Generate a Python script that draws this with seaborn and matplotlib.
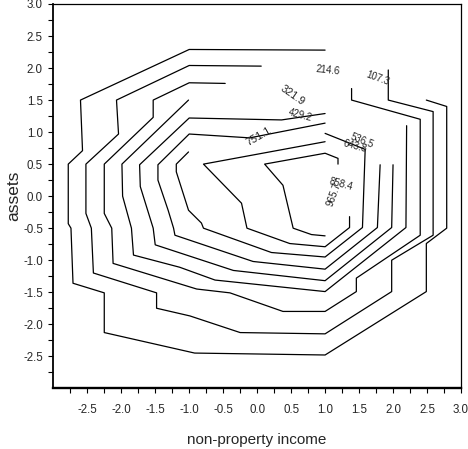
import matplotlib
matplotlib.use("Agg")
import matplotlib.pyplot as plt
from matplotlib.ticker import FixedLocator
import numpy as np
import pandas as pd
import seaborn as sns

# contour levels of the density surface
levels = [107.3, 214.6, 321.9, 429.2, 536.5, 643.8, 751.1, 858.4, 965.7]

# traced contour paths (non-property income, assets), one pair per level
c1_x = [1.00, -1.00, -2.60, -2.57, -2.78, -2.78, -2.74, -2.71, -2.25, -2.25, -0.92, 1.00, 2.49, 2.49, 2.79, 2.79, 2.49]
c1_y = [2.28, 2.29, 1.50, 0.71, 0.50, -0.43, -0.50, -1.36, -1.51, -2.13, -2.45, -2.48, -1.49, -0.74, -0.50, 1.40, 1.50]

c2_x = [0.06, -1.00, -2.07, -2.04, -2.52, -2.52, -2.44, -2.41, -1.48, -1.48, -0.99, -0.25, 1.00, 1.98, 1.98, 2.59, 2.59, 1.93, 1.93]
c2_y = [2.03, 2.04, 1.50, 0.97, 0.50, -0.27, -0.50, -1.20, -1.51, -1.75, -1.87, -2.13, -2.15, -1.49, -1.00, -0.61, 1.32, 1.50, 1.97]

c3_x = [-0.47, -1.00, -1.53, -1.53, -2.25, -2.25, -2.14, -2.12, -0.89, -0.40, 0.38, 1.00, 1.46, 1.46, 2.40, 2.40, 1.39, 1.39]
c3_y = [1.76, 1.77, 1.50, 1.23, 0.50, -0.27, -0.50, -1.05, -1.45, -1.51, -1.80, -1.80, -1.49, -1.28, -0.61, 1.20, 1.50, 1.68]

c4_x = [-1.01, -1.99, -1.98, -1.85, -1.82, -1.14, -0.62, 1.00, 2.19, 2.20]
c4_y = [1.50, 0.50, 0.00, -0.50, -0.92, -1.11, -1.31, -1.49, -0.49, 1.10]

c5_x = [1.00, 0.36, -1.00, -1.73, -1.72, -1.53, -1.50, -0.35, 1.00, 1.98, 2.00]
c5_y = [1.29, 1.19, 1.22, 0.49, 0.15, -0.50, -0.76, -1.16, -1.32, -0.49, 0.49]

c6_x = [1.00, -0.11, -1.00, -1.46, -1.46, -1.31, -1.23, -1.21, -0.06, 1.00, 1.77, 1.81]
c6_y = [1.14, 0.91, 0.97, 0.49, 0.25, -0.22, -0.50, -0.61, -1.02, -1.14, -0.49, 0.49]

c7_x = [-1.01, -1.19, -1.19, -1.01, -0.82, -0.79, 0.21, 1.00, 1.55, 1.59, 1.00]
c7_y = [0.69, 0.50, 0.38, -0.22, -0.42, -0.50, -0.88, -0.95, -0.49, 0.73, 0.98]

c8_x = [1.00, -0.79, -0.23, -0.15, 0.48, 1.00, 1.36, 1.36]
c8_y = [0.85, 0.50, -0.11, -0.50, -0.74, -0.79, -0.49, -0.32]

c9_x = [1.19, 1.19, 1.00, 0.11, 0.38, 0.53, 0.80, 1.00]
c9_y = [0.50, 0.59, 0.67, 0.50, 0.17, -0.50, -0.60, -0.62]

x_ticks = [-2.5, -2.0, -1.5, -1.0, -0.5, 0.0, 0.5, 1.0, 1.5, 2.0, 2.5, 3.0]
y_ticks = [-2.5, -2.0, -1.5, -1.0, -0.5, 0.0, 0.5, 1.0, 1.5, 2.0, 2.5, 3.0]

paths_x = [c1_x, c2_x, c3_x, c4_x, c5_x, c6_x, c7_x, c8_x, c9_x]
paths_y = [c1_y, c2_y, c3_y, c4_y, c5_y, c6_y, c7_y, c8_y, c9_y]

frames = []
for lev, px, py in zip(levels, paths_x, paths_y):
    frames.append(pd.DataFrame({"income": px, "assets": py, "level": lev,
                                "order": np.arange(len(px))}))
df = pd.concat(frames, ignore_index=True)

sns.set_style("ticks")
plt.rcParams["font.family"] = ["Liberation Sans", "DejaVu Sans"]

fig = plt.figure(figsize=(4.68, 4.49), dpi=100)
ax = fig.add_axes([0.1139, 0.1352, 0.8711, 0.8559])

sns.lineplot(data=df, x="income", y="assets", units="level", estimator=None,
             sort=False, color="black", linewidth=0.9, legend=False, ax=ax)

# inline level labels, placed in the gaps of each contour
label_place = {
    107.3: (1.78, 1.84, -20, 7.0),
    214.6: (1.04, 1.97, -6, 7.0),
    321.9: (0.52, 1.58, -35, 7.8),
    429.2: (0.64, 1.27, -15, 7.0),
    536.5: (1.54, 0.86, -22, 7.0),
    643.8: (1.44, 0.78, -15, 7.0),
    751.1: (0.03, 0.93, 30, 7.8),
    858.4: (1.24, 0.19, -15, 7.0),
    965.7: (1.13, 0.03, 70, 7.0),
}
for lev in levels:
    lx, ly, rot, fs = label_place[lev]
    ax.text(lx, ly, f"{lev:.1f}", fontsize=fs, rotation=rot,
            ha="center", va="center", color="#222222")

ax.set_xlim(-3.0, 3.0)
ax.set_ylim(-3.0, 3.0)
ax.xaxis.set_major_locator(FixedLocator(x_ticks))
ax.yaxis.set_major_locator(FixedLocator(y_ticks))
minor = [v for v in np.arange(-2.75, 2.8, 0.25) if abs(v * 2 - round(v * 2)) > 1e-6]
ax.xaxis.set_minor_locator(FixedLocator(minor))
ax.yaxis.set_minor_locator(FixedLocator(minor))
ax.set_xticklabels([f"{v:.1f}" for v in x_ticks])
ax.set_yticklabels([f"{v:.1f}" for v in y_ticks])
ax.tick_params(which="both", direction="out", length=3.5, width=0.8,
               color="black", labelsize=8.3)
ax.tick_params(axis="x", which="both", pad=8)
ax.tick_params(axis="y", which="both", pad=4)

ax.set_xlabel("non-property income", fontsize=11, labelpad=12)
ax.set_ylabel("assets", fontsize=12.5, labelpad=1)

for side, lw in (("left", 1.3), ("bottom", 1.7), ("top", 0.9), ("right", 0.9)):
    ax.spines[side].set_visible(True)
    ax.spines[side].set_linewidth(lw)
    ax.spines[side].set_color("black")

fig.savefig("out.png", dpi=100, facecolor="white")
